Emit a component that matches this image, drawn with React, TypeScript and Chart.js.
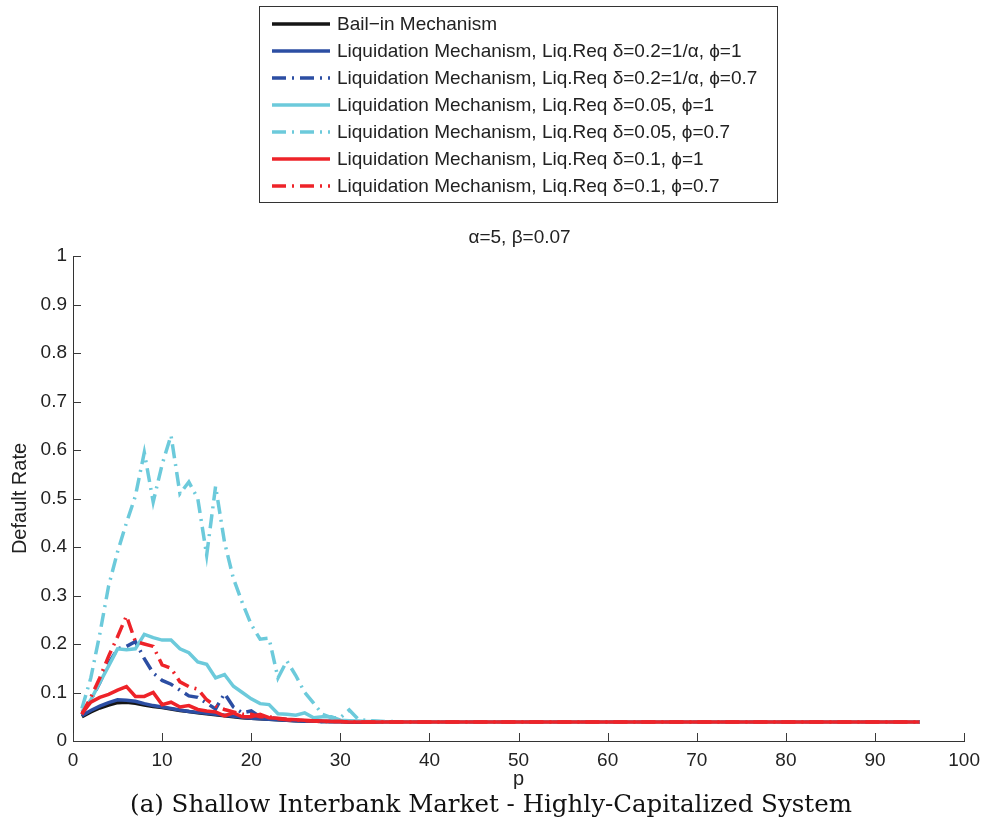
import React, { useEffect, useRef } from 'react';
import { Chart, registerables } from 'chart.js';

Chart.register(...registerables);

const pValues = [
  1, 2, 3, 4, 5, 6, 7, 8, 9, 10,
  11, 12, 13, 14, 15, 16, 17, 18, 19, 20,
  21, 22, 23, 24, 25, 26, 27, 28, 29, 30,
  31, 32, 33, 34, 35, 36, 37, 38, 39, 40,
  41, 42, 43, 44, 45, 46, 47, 48, 49, 50,
  51, 52, 53, 54, 55, 56, 57, 58, 59, 60,
  61, 62, 63, 64, 65, 66, 67, 68, 69, 70,
  71, 72, 73, 74, 75, 76, 77, 78, 79, 80,
  81, 82, 83, 84, 85, 86, 87, 88, 89, 90,
  91, 92, 93, 94, 95,
];

const bailIn = [
  0.050, 0.060, 0.068, 0.074, 0.079, 0.080, 0.078, 0.074, 0.071, 0.069,
  0.066, 0.063, 0.061, 0.058, 0.056, 0.054, 0.052, 0.050, 0.048, 0.047,
  0.046, 0.045, 0.044, 0.043, 0.042, 0.041, 0.041, 0.040, 0.040, 0.040,
  0.039, 0.039, 0.039, 0.039, 0.039, 0.039, 0.039, 0.039, 0.039, 0.039,
  0.039, 0.039, 0.039, 0.039, 0.039, 0.039, 0.039, 0.039, 0.039, 0.039,
  0.039, 0.039, 0.039, 0.039, 0.039, 0.039, 0.039, 0.039, 0.039, 0.039,
  0.039, 0.039, 0.039, 0.039, 0.039, 0.039, 0.039, 0.039, 0.039, 0.039,
  0.039, 0.039, 0.039, 0.039, 0.039, 0.039, 0.039, 0.039, 0.039, 0.039,
  0.039, 0.039, 0.039, 0.039, 0.039, 0.039, 0.039, 0.039, 0.039, 0.039,
  0.039, 0.039, 0.039, 0.039, 0.039,
];

const liqDelta02Phi1 = [
  0.052, 0.063, 0.072, 0.079, 0.085, 0.084, 0.082, 0.077, 0.073, 0.070,
  0.067, 0.064, 0.061, 0.059, 0.057, 0.055, 0.053, 0.051, 0.049, 0.047,
  0.046, 0.045, 0.044, 0.043, 0.042, 0.041, 0.041, 0.040, 0.040, 0.040,
  0.039, 0.039, 0.039, 0.039, 0.039, 0.039, 0.039, 0.039, 0.039, 0.039,
  0.039, 0.039, 0.039, 0.039, 0.039, 0.039, 0.039, 0.039, 0.039, 0.039,
  0.039, 0.039, 0.039, 0.039, 0.039, 0.039, 0.039, 0.039, 0.039, 0.039,
  0.039, 0.039, 0.039, 0.039, 0.039, 0.039, 0.039, 0.039, 0.039, 0.039,
  0.039, 0.039, 0.039, 0.039, 0.039, 0.039, 0.039, 0.039, 0.039, 0.039,
  0.039, 0.039, 0.039, 0.039, 0.039, 0.039, 0.039, 0.039, 0.039, 0.039,
  0.039, 0.039, 0.039, 0.039, 0.039,
];

const liqDelta02Phi07 = [
  0.055, 0.085, 0.120, 0.160, 0.190, 0.195, 0.205, 0.170, 0.140, 0.125,
  0.117, 0.105, 0.093, 0.090, 0.078, 0.066, 0.098, 0.070, 0.058, 0.062,
  0.050, 0.048, 0.046, 0.044, 0.043, 0.042, 0.041, 0.040, 0.040, 0.040,
  0.039, 0.039, 0.039, 0.039, 0.039, 0.039, 0.039, 0.039, 0.039, 0.039,
  0.039, 0.039, 0.039, 0.039, 0.039, 0.039, 0.039, 0.039, 0.039, 0.039,
  0.039, 0.039, 0.039, 0.039, 0.039, 0.039, 0.039, 0.039, 0.039, 0.039,
  0.039, 0.039, 0.039, 0.039, 0.039, 0.039, 0.039, 0.039, 0.039, 0.039,
  0.039, 0.039, 0.039, 0.039, 0.039, 0.039, 0.039, 0.039, 0.039, 0.039,
  0.039, 0.039, 0.039, 0.039, 0.039, 0.039, 0.039, 0.039, 0.039, 0.039,
  0.039, 0.039, 0.039, 0.039, 0.039,
];

const liqDelta005Phi1 = [
  0.060, 0.085, 0.120, 0.155, 0.190, 0.188, 0.190, 0.220, 0.213, 0.208,
  0.208, 0.190, 0.182, 0.163, 0.158, 0.130, 0.137, 0.113, 0.100, 0.087,
  0.077, 0.075, 0.056, 0.055, 0.053, 0.058, 0.048, 0.050, 0.050, 0.043,
  0.042, 0.041, 0.040, 0.040, 0.039, 0.039, 0.039, 0.039, 0.039, 0.039,
  0.039, 0.039, 0.039, 0.039, 0.039, 0.039, 0.039, 0.039, 0.039, 0.039,
  0.039, 0.039, 0.039, 0.039, 0.039, 0.039, 0.039, 0.039, 0.039, 0.039,
  0.039, 0.039, 0.039, 0.039, 0.039, 0.039, 0.039, 0.039, 0.039, 0.039,
  0.039, 0.039, 0.039, 0.039, 0.039, 0.039, 0.039, 0.039, 0.039, 0.039,
  0.039, 0.039, 0.039, 0.039, 0.039, 0.039, 0.039, 0.039, 0.039, 0.039,
  0.039, 0.039, 0.039, 0.039, 0.039,
];

const liqDelta005Phi07 = [
  0.067, 0.130, 0.220, 0.320, 0.390, 0.450, 0.505, 0.595, 0.493, 0.570,
  0.630, 0.510, 0.534, 0.500, 0.383, 0.525, 0.410, 0.335, 0.285, 0.240,
  0.210, 0.212, 0.130, 0.165, 0.135, 0.100, 0.078, 0.055, 0.048, 0.048,
  0.064, 0.045, 0.042, 0.041, 0.040, 0.040, 0.039, 0.039, 0.039, 0.039,
  0.039, 0.039, 0.039, 0.039, 0.039, 0.039, 0.039, 0.039, 0.039, 0.039,
  0.039, 0.039, 0.039, 0.039, 0.039, 0.039, 0.039, 0.039, 0.039, 0.039,
  0.039, 0.039, 0.039, 0.039, 0.039, 0.039, 0.039, 0.039, 0.039, 0.039,
  0.039, 0.039, 0.039, 0.039, 0.039, 0.039, 0.039, 0.039, 0.039, 0.039,
  0.039, 0.039, 0.039, 0.039, 0.039, 0.039, 0.039, 0.039, 0.039, 0.039,
  0.039, 0.039, 0.039, 0.039, 0.039,
];

const liqDelta01Phi1 = [
  0.057, 0.080, 0.090, 0.096, 0.105, 0.112, 0.092, 0.092, 0.100, 0.075,
  0.080, 0.070, 0.073, 0.065, 0.062, 0.060, 0.052, 0.058, 0.050, 0.050,
  0.055, 0.048, 0.047, 0.045, 0.044, 0.043, 0.042, 0.041, 0.040, 0.040,
  0.039, 0.039, 0.039, 0.039, 0.039, 0.039, 0.039, 0.039, 0.039, 0.039,
  0.039, 0.039, 0.039, 0.039, 0.039, 0.039, 0.039, 0.039, 0.039, 0.039,
  0.039, 0.039, 0.039, 0.039, 0.039, 0.039, 0.039, 0.039, 0.039, 0.039,
  0.039, 0.039, 0.039, 0.039, 0.039, 0.039, 0.039, 0.039, 0.039, 0.039,
  0.039, 0.039, 0.039, 0.039, 0.039, 0.039, 0.039, 0.039, 0.039, 0.039,
  0.039, 0.039, 0.039, 0.039, 0.039, 0.039, 0.039, 0.039, 0.039, 0.039,
  0.039, 0.039, 0.039, 0.039, 0.039,
];

const liqDelta01Phi07 = [
  0.055, 0.090, 0.130, 0.175, 0.215, 0.258, 0.205, 0.200, 0.195, 0.157,
  0.150, 0.122, 0.112, 0.107, 0.085, 0.072, 0.065, 0.060, 0.055, 0.055,
  0.050, 0.050, 0.046, 0.044, 0.043, 0.042, 0.041, 0.040, 0.040, 0.040,
  0.039, 0.039, 0.039, 0.039, 0.039, 0.039, 0.039, 0.039, 0.039, 0.039,
  0.039, 0.039, 0.039, 0.039, 0.039, 0.039, 0.039, 0.039, 0.039, 0.039,
  0.039, 0.039, 0.039, 0.039, 0.039, 0.039, 0.039, 0.039, 0.039, 0.039,
  0.039, 0.039, 0.039, 0.039, 0.039, 0.039, 0.039, 0.039, 0.039, 0.039,
  0.039, 0.039, 0.039, 0.039, 0.039, 0.039, 0.039, 0.039, 0.039, 0.039,
  0.039, 0.039, 0.039, 0.039, 0.039, 0.039, 0.039, 0.039, 0.039, 0.039,
  0.039, 0.039, 0.039, 0.039, 0.039,
];

const seriesLabels = [
  'Bail\u2212in Mechanism',
  'Liquidation Mechanism, Liq.Req \u03b4=0.2=1/\u03b1, \u03d5=1',
  'Liquidation Mechanism, Liq.Req \u03b4=0.2=1/\u03b1, \u03d5=0.7',
  'Liquidation Mechanism, Liq.Req \u03b4=0.05, \u03d5=1',
  'Liquidation Mechanism, Liq.Req \u03b4=0.05, \u03d5=0.7',
  'Liquidation Mechanism, Liq.Req \u03b4=0.1, \u03d5=1',
  'Liquidation Mechanism, Liq.Req \u03b4=0.1, \u03d5=0.7',
];

const xTickValues = [0, 10, 20, 30, 40, 50, 60, 70, 80, 90, 100];
const yTickValues = [0, 0.1, 0.2, 0.3, 0.4, 0.5, 0.6, 0.7, 0.8, 0.9, 1];
const yTickLabels = ['0', '0.1', '0.2', '0.3', '0.4', '0.5', '0.6', '0.7', '0.8', '0.9', '1'];

const plotTitle = '\u03b1=5, \u03b2=0.07';
const xAxisTitle = 'p';
const yAxisTitle = 'Default Rate';
const captionText = '(a) Shallow Interbank Market - Highly-Capitalized System';

const SANS = '"Liberation Sans", Arial, Helvetica, sans-serif';
const SERIF = '"DejaVu Serif", "Liberation Serif", serif';

const BLACK = '#151515';
const BLUE = '#2c4ea3';
const CYAN = '#6ccadb';
const RED = '#ee2329';
const DASHDOT = [14, 6, 2, 6];

const seriesValues = [
  bailIn,
  liqDelta02Phi1,
  liqDelta02Phi07,
  liqDelta005Phi1,
  liqDelta005Phi07,
  liqDelta01Phi1,
  liqDelta01Phi07,
];
const seriesColors = [BLACK, BLUE, BLUE, CYAN, CYAN, RED, RED];
const seriesDashed = [false, false, true, false, true, false, true];

const decorPlugin = {
  id: 'decor',
  beforeDatasetsDraw(chart: any) {
    const ctx = chart.ctx;
    const xs = chart.scales.x;
    const ys = chart.scales.y;
    const { left, bottom } = chart.chartArea;
    ctx.save();
    ctx.strokeStyle = '#3a3a3a';
    ctx.lineWidth = 1;
    xTickValues.forEach((v) => {
      const px = Math.round(xs.getPixelForValue(v)) + 0.5;
      ctx.beginPath();
      ctx.moveTo(px, bottom);
      ctx.lineTo(px, bottom - 8);
      ctx.stroke();
    });
    yTickValues.forEach((v) => {
      const py = Math.round(ys.getPixelForValue(v)) + 0.5;
      ctx.beginPath();
      ctx.moveTo(left, py);
      ctx.lineTo(left + 8, py);
      ctx.stroke();
    });
    ctx.restore();
  },
  afterDraw(chart: any) {
    const ctx = chart.ctx;
    const { left, right } = chart.chartArea;
    ctx.save();
    // legend box
    const bx = 259.5, by = 6.5, bw = 518, bh = 196;
    ctx.fillStyle = '#ffffff';
    ctx.fillRect(bx, by, bw, bh);
    ctx.strokeStyle = '#333333';
    ctx.lineWidth = 1;
    ctx.setLineDash([]);
    ctx.strokeRect(bx, by, bw, bh);
    const rowY0 = 24;
    const rowGap = 27;
    chart.data.datasets.forEach((ds: any, i: number) => {
      const y = rowY0 + i * rowGap;
      ctx.save();
      ctx.strokeStyle = ds.borderColor;
      ctx.lineWidth = ds.borderWidth;
      ctx.setLineDash(ds.borderDash || []);
      ctx.beginPath();
      ctx.moveTo(272, y);
      ctx.lineTo(330, y);
      ctx.stroke();
      ctx.restore();
      ctx.fillStyle = '#222222';
      ctx.font = `19px ${SANS}`;
      ctx.textAlign = 'left';
      ctx.textBaseline = 'middle';
      ctx.fillText(ds.label, 337, y + 1);
    });
    // plot title
    ctx.fillStyle = '#222222';
    ctx.font = `19px ${SANS}`;
    ctx.textAlign = 'center';
    ctx.textBaseline = 'middle';
    ctx.fillText(plotTitle, (left + right) / 2 + 1, 238);
    // caption, sized to the reference's width
    ctx.font = `22px ${SERIF}`;
    const w = ctx.measureText(captionText).width;
    const size = Math.max(14, Math.min(30, (22 * 722) / w));
    ctx.font = `${size.toFixed(1)}px ${SERIF}`;
    ctx.fillStyle = '#111111';
    ctx.fillText(captionText, 491, 806);
    ctx.restore();
  },
};

export default function App() {
  const canvasRef = useRef<HTMLCanvasElement | null>(null);

  useEffect(() => {
    const canvas = canvasRef.current;
    if (!canvas) return;
    const datasets = seriesValues.map((vals, i) => ({
      label: seriesLabels[i],
      data: pValues.map((p, j) => ({ x: p, y: vals[j] })),
      borderColor: seriesColors[i],
      backgroundColor: seriesColors[i],
      borderWidth: 3.5,
      borderDash: seriesDashed[i] ? DASHDOT : [],
      pointRadius: 0,
      tension: 0,
      fill: false,
      order: seriesValues.length - 1 - i,
    }));

    const chart = new Chart(canvas, {
      type: 'line',
      data: { datasets },
      options: {
        animation: false,
        responsive: false,
        devicePixelRatio: 1,
        layout: { padding: { top: 256, right: 23, bottom: 38, left: 0 } },
        plugins: {
          legend: { display: false },
          tooltip: { enabled: false },
          title: { display: false },
        },
        scales: {
          x: {
            type: 'linear',
            min: 0,
            max: 100,
            afterBuildTicks: (scale: any) => {
              scale.ticks = xTickValues.map((v) => ({ value: v }));
            },
            afterFit: (scale: any) => {
              scale.height = 50;
            },
            grid: { display: false, drawTicks: false },
            border: { display: true, color: '#333333', width: 1 },
            ticks: {
              color: '#222222',
              font: { family: SANS, size: 19 },
              padding: 8,
              maxRotation: 0,
              autoSkip: false,
            },
            title: {
              display: true,
              text: xAxisTitle,
              color: '#222222',
              font: { family: SANS, size: 20 },
              padding: { top: 0, bottom: 0 },
            },
          },
          y: {
            type: 'linear',
            min: 0,
            max: 1,
            afterBuildTicks: (scale: any) => {
              scale.ticks = yTickValues.map((v) => ({ value: v }));
            },
            afterFit: (scale: any) => {
              scale.width = 73;
            },
            grid: { display: false, drawTicks: false },
            border: { display: true, color: '#333333', width: 1 },
            ticks: {
              color: '#222222',
              font: { family: SANS, size: 19 },
              padding: 6,
              autoSkip: false,
              callback: (value: any, index: number) => yTickLabels[index],
            },
            title: {
              display: true,
              text: yAxisTitle,
              color: '#222222',
              font: { family: SANS, size: 20 },
              padding: { top: 8, bottom: 0 },
            },
          },
        },
      },
      plugins: [decorPlugin],
    });
    return () => chart.destroy();
  }, []);

  return (
    <div style={{ position: 'absolute', left: 0, top: 0, width: 988, height: 829, background: '#ffffff' }}>
      <canvas ref={canvasRef} width={988} height={829} style={{ display: 'block' }} />
    </div>
  );
}
